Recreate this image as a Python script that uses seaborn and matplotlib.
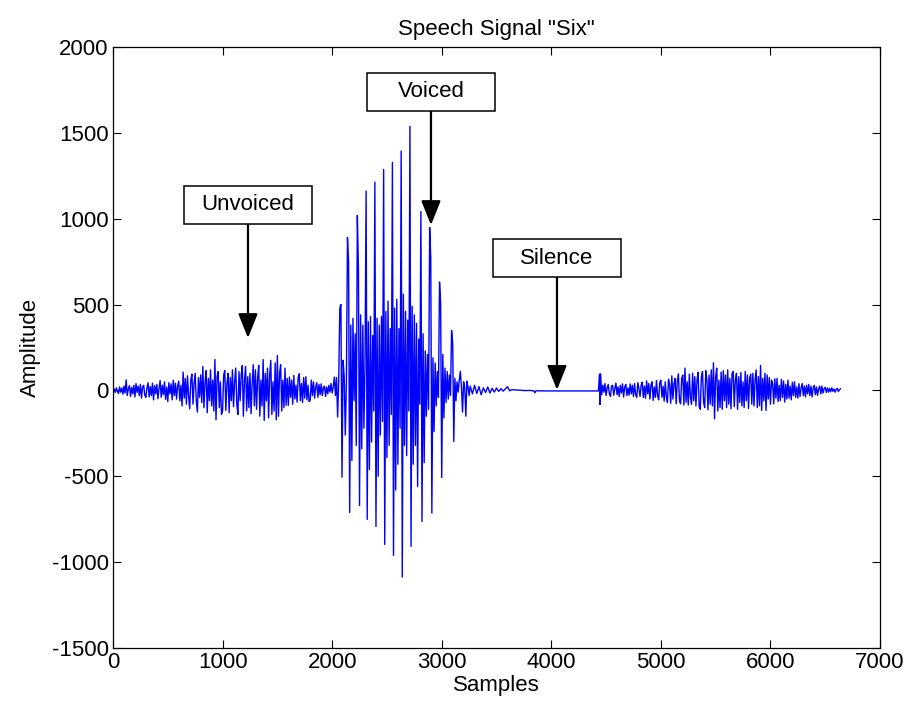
import numpy as np
import pandas as pd
import matplotlib
matplotlib.use("Agg")
import matplotlib.pyplot as plt
from matplotlib.patches import Rectangle
import seaborn as sns

# ---------------- data ----------------
# Unvoiced part: samples 0, 10, 20, ...
unvoiced_start, unvoiced_step = 0, 10
unvoiced_amp = [
    0, 8, -12, 15, -5, -18, 20, -10, 14, -22,
    25, -15, 62, -30, 10, 28, -35, 18, -20, 30,
    -38, 40, -12, 25, -30, 35, -45, 20, 30, -28,
    -40, 15, 45, -38, 22, -30, 42, -55, 28, -20,
    35, -48, 10, 58, -40, 30, -25, 50, -52, 20,
    -65, 45, -20, 38, -55, 60, -30, 42, -50, 25,
    55, -60, 30, -90, 107, -45, 70, -80, 85, -30,
    -107, 60, 95, -80, 40, 100, -60, -126, 75, -40,
    90, -70, 140, -100, 50, 115, -130, 70, -60, 120,
    -90, 60, -120, 180, -171, 80, 110, -100, 50, -140,
    -120, 90, 116, -116, 40, 100, -130, 75, -60, 120,
    -95, 50, 130, -80, -140, 110, -60, 90, 145, -150,
    60, 140, -120, 80, -100, 100, -135, 40, 150, -90,
    120, -110, 70, 146, -150, 60, -90, 180, -175, 100,
    -60, 130, -160, 90, 175, -140, 50, -120, 160, -171,
    204, -150, 100, 150, -120, 60, -100, 130, -87, 70,
    -87, 78, -40, 60, -80, 87, -50, 30, -68, 75,
    97, -60, 40, -70, 75, -45, 80, -55, 30, -65,
    -55, 60, -30, 50, -45, 20, 45, -40, 35, -25,
    38, -30, 15, 25, -35, 20, -20, 30, -10, 40,
    -15, 20, 78,
]

# Voiced part: samples 2030, 2040, ...
voiced_start, voiced_step = 2030, 10
voiced_amp = [
    -30, 75, -155, 60, 480, 500, -505, 175, 80, -260,
    40, 891, 745, -711, 380, -408, 420, -60, 330, -320,
    1019, 710, -670, 440, -340, 380, -220, 150, 1161, -751,
    400, -460, 430, -300, 320, -120, 1213, -792, 420, -500,
    380, -260, 430, -180, 1287, -897, 460, -390, 520, -320,
    360, -140, 1328, -961, 480, -580, 530, -430, 360, -220,
    1394, -1087, 560, -320, 460, -380, 410, -120, 1538, -908,
    490, -430, 440, -320, 390, -560, 300, -80, 1042, -763,
    330, -420, 230, -150, 210, -110, 949, 776, -714, 190,
    -240, 160, -90, 110, -40, 631, 510, -507, 210, -160,
    130, -70, 110, -50, 90, -30, 349, 280, -297, 70,
    -60, 50, -10, 60, 111, 20, -126, 50, 20, -150,
    54, 20, -30,
]

# Decay after the voiced part: samples 3260, 3280, ...
decay_start, decay_step = 3260, 20
decay_amp = [25, -20, 30, -18, 22, -25, 15, -12, 20, -15,
             12, -10, 14, -6, 10, -4, 8, 22, -2, 4]

# Silence
silence_samples = [3700, 3760, 3800, 3840, 3850, 3860, 3950, 4050, 4150, 4250, 4350, 4430]
silence_amp = [2, -1, 0, -2, -14, -2, -3, -3, -3, -3, -3, -3]

# Onset click of the final unvoiced part
onset_samples = [4440, 4445, 4450]
onset_amp = [95, -82, 97]

# Final unvoiced part: samples 4460, 4470, ...
final_start, final_step = 4460, 10
final_amp = [
    -25, 30, -10, 40, -30, 15, 35, -20, -35, 25,
    30, -28, 10, 43, -25, 20, -35, 30, -15, 38,
    -38, 20, 35, -30, 15, -28, 38, -20, 30, -35,
    40, -25, -40, 45, 10, -35, 30, 48, -42, 25,
    -45, 55, -20, 40, -50, 30, 50, -58, 20, -40,
    58, -30, -55, 45, 60, -40, 25, -62, 50, -35,
    -70, 65, 30, -75, 85, -50, 40, 70, -78, 55,
    97, -60, -78, 70, 90, -85, 130, -70, 50, -85,
    95, -40, -80, 100, -60, 80, -90, 60, 105, -95,
    -110, 80, 110, -70, -100, 115, 60, -113, 90, -80,
    120, -90, 161, -165, 80, 130, -120, 60, -100, 107,
    -110, 115, -60, 90, -100, 120, -80, 70, -107, 100,
    110, -95, 60, 100, -110, 80, -70, 105, -90, 50,
    -100, 110, -60, 90, -105, 70, 95, -80, 100, -90,
    60, 120, -100, 80, -90, 146, -116, 70, -60, 100,
    -116, 90, -50, 75, -80, 60, 40, -78, 68, -45,
    70, -65, 30, -60, 65, -40, 55, -68, 35, -50,
    60, -45, 25, -55, 48, -30, 50, -40, 20, -45,
    39, -35, 15, 40, -30, 25, -38, 30, -20, 35,
    -30, 25, -38, 15, 30, -25, 20, -28, 10, 25,
    -20, 25, -15, 10, 18, -12, 15, -10, 12, -8,
    15, -5, 8, -10, 5, 12, -6, 4, 10,
]

annotation_labels = ["Unvoiced", "Voiced", "Silence"]

# ---------------- assemble ----------------
def seg(start, step, vals):
    return start + step * np.arange(len(vals))

x = np.concatenate([
    seg(unvoiced_start, unvoiced_step, unvoiced_amp),
    seg(voiced_start, voiced_step, voiced_amp),
    seg(decay_start, decay_step, decay_amp),
    np.array(silence_samples),
    np.array(onset_samples),
    seg(final_start, final_step, final_amp),
])
y = np.concatenate([unvoiced_amp, voiced_amp, decay_amp, silence_amp, onset_amp, final_amp])
df = pd.DataFrame({"Samples": x, "Amplitude": y})

# ---------------- style ----------------
sns.set_style("ticks")
plt.rcParams["font.family"] = ["Liberation Sans", "DejaVu Sans"]
plt.rcParams["axes.unicode_minus"] = False
plt.rcParams["text.color"] = "black"
plt.rcParams["axes.labelcolor"] = "black"

fig = plt.figure(figsize=(9.08, 7.06), dpi=100)
ax = fig.add_axes([113 / 908, 1 - 648 / 706, 767 / 908, 601 / 706])

sns.lineplot(data=df, x="Samples", y="Amplitude", color="#0000ff",
             linewidth=1.0, estimator=None, sort=False, ax=ax)

ax.set_xlim(0, 7000)
ax.set_ylim(-1500, 2000)
ax.set_xticks(np.arange(0, 7001, 1000))
ax.set_yticks(np.arange(-1500, 2001, 500))
ax.tick_params(direction="in", top=True, right=True, length=5.5, width=0.8,
               labelsize=16, pad=3, colors="black")
for s in ax.spines.values():
    s.set_visible(True)
    s.set_linewidth(0.9)
    s.set_color("black")

ax.set_xlabel("Samples", fontsize=16, labelpad=1, color="black")
ax.set_ylabel("Amplitude", fontsize=16, labelpad=8, color="black")
ax.set_title('Speech Signal "Six"', fontsize=16, pad=9, color="black")

# annotations: arrow tip (data), box centre (data)
ann_geom = [((1232, 305), (1232, 1080)),
            ((2902, 963), (2902, 1738)),
            ((4052, 3), (4052, 771))]
bw, bh = 1175, 221
for label, (tip, ctr) in zip(annotation_labels, ann_geom):
    cx, cy = ctr
    ax.annotate("", xy=tip, xytext=(cx, cy - bh / 2),
                arrowprops=dict(arrowstyle="-|>,head_length=0.75,head_width=0.3",
                                mutation_scale=20, lw=1.6, color="black",
                                shrinkA=0, shrinkB=0), zorder=4)
    ax.add_patch(Rectangle((cx - bw / 2, cy - bh / 2), bw, bh, facecolor="white",
                           edgecolor="black", linewidth=1.1, zorder=5))
    ax.text(cx, cy, label, ha="center", va="center", fontsize=16, zorder=6,
            color="black")

fig.savefig("out.png", dpi=100, facecolor="white")
